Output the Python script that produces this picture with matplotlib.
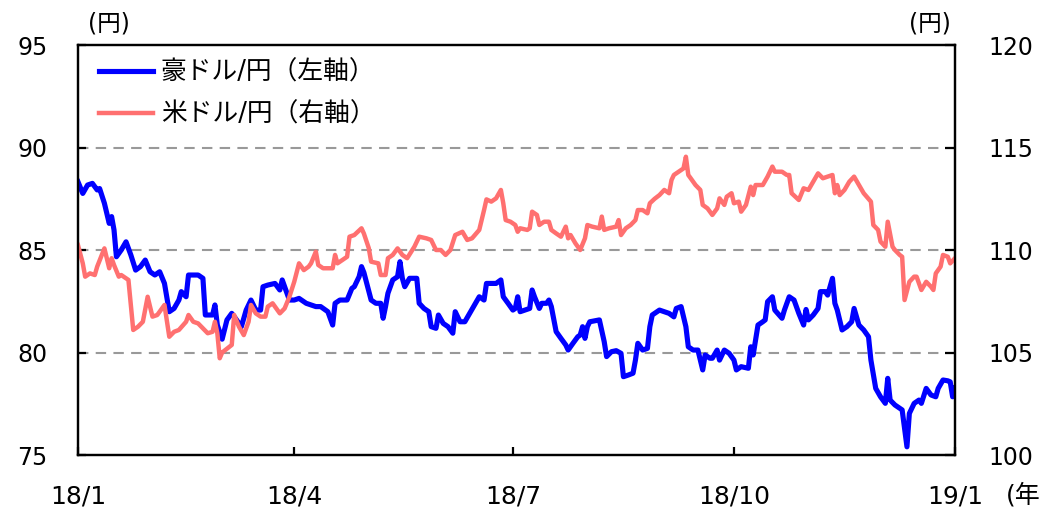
import matplotlib
matplotlib.use("Agg")
import matplotlib.pyplot as plt

plt.rcParams['font.family'] = ['DejaVu Sans', 'Noto Sans CJK JP']

# days since 2018/1/1 and rate (yen)
aud_days = [0, 2, 4, 6, 8, 9, 11, 13, 14, 15, 16, 18, 20, 22, 24, 26, 28, 30, 32, 34,
            36, 38, 40, 42, 43, 45, 46, 50, 52, 53, 56, 57, 58, 60, 62, 64, 66, 68, 70, 72,
            74, 76, 77, 79, 82, 84, 85, 88, 90, 92, 95, 99, 101, 104, 106, 107, 109, 112, 114, 115,
            117, 118, 119, 122, 124, 126, 127, 128, 129, 131, 133, 134, 135, 136, 138, 141, 142, 144, 146, 147,
            149, 150, 152, 154, 156, 157, 159, 161, 163, 165, 167, 169, 170, 172, 174, 176, 177, 179, 181, 182,
            183, 184, 186, 188, 189, 190, 192, 193, 195, 196, 197, 199, 201, 203, 204, 206, 208, 209, 210, 211,
            212, 213, 217, 219, 220, 222, 224, 226, 227, 229, 231, 232, 233, 235, 237, 238, 239, 241, 242, 244,
            246, 248, 249, 251, 253, 254, 256, 258, 260, 261, 263, 264, 266, 267, 269, 271, 273, 274, 276, 279,
            280, 281, 283, 285, 286, 287, 289, 290, 293, 294, 296, 298, 300, 302, 303, 304, 306, 308, 309, 311,
            312, 314, 315, 316, 318, 320, 322, 323, 325, 327, 329, 330, 332, 334, 336, 337, 338, 340, 343, 345,
            346, 348, 350, 351, 353, 355, 357, 358, 360, 362, 363, 364, 365]
aud = [88.33, 87.76, 88.17, 88.25, 87.93, 88.0, 87.28, 86.3, 86.63, 85.98, 84.67, 85.0, 85.4, 84.76, 84.02, 84.19, 84.51, 83.94, 83.78, 83.94,
       83.37, 81.99, 82.15, 82.56, 82.97, 82.72, 83.78, 83.78, 83.62, 81.83, 81.83, 82.32, 81.34, 80.65, 81.59, 81.91, 81.59, 81.26, 82.07, 82.56,
       82.07, 82.07, 83.21, 83.29, 83.37, 83.05, 83.54, 82.56, 82.56, 82.64, 82.4, 82.24, 82.24, 81.99, 81.34, 82.4, 82.56, 82.56, 83.13, 83.21,
       83.7, 84.19, 83.9, 82.56, 82.4, 82.4, 81.67, 82.24, 82.89, 83.54, 83.7, 84.43, 83.62, 83.21, 83.62, 83.62, 82.4, 82.15, 81.99, 81.26,
       81.18, 81.83, 81.42, 81.26, 80.94, 81.99, 81.5, 81.5, 81.91, 82.32, 82.72, 82.56, 83.37, 83.37, 83.37, 83.54, 82.72, 82.4, 82.07, 82.15,
       82.72, 81.99, 82.07, 82.15, 83.05, 82.72, 82.15, 82.4, 82.4, 82.56, 82.24, 81.02, 80.69, 80.37, 80.12, 80.45, 80.77, 80.85, 81.26, 80.69,
       81.26, 81.5, 81.59, 80.53, 79.8, 80.04, 80.09, 79.96, 78.82, 78.9, 78.99, 79.63, 80.45, 80.12, 80.2, 81.26, 81.83, 81.99, 82.07, 81.99,
       81.91, 81.74, 82.15, 82.24, 81.26, 80.28, 80.12, 80.12, 79.15, 79.88, 79.72, 79.72, 80.12, 79.63, 80.12, 79.96, 79.63, 79.15, 79.31, 79.23,
       80.28, 79.88, 81.34, 81.5, 81.59, 82.48, 82.72, 82.07, 81.67, 82.07, 82.72, 82.56, 81.91, 81.34, 82.1, 81.59, 81.83, 82.15, 82.97, 82.97,
       82.8, 83.62, 82.4, 82.07, 81.1, 81.26, 81.5, 82.15, 81.34, 81.1, 80.77, 79.63, 78.25, 77.84, 77.52, 78.74, 77.68, 77.44, 77.2, 75.4,
       77.03, 77.52, 77.68, 77.52, 78.25, 77.93, 77.84, 78.25, 78.66, 78.62, 78.57, 77.84, 78.25]

usd_days = [0, 2, 3, 5, 7, 8, 11, 13, 14, 15, 17, 18, 21, 23, 25, 27, 29, 31, 33, 36,
            38, 40, 42, 45, 46, 48, 50, 52, 54, 56, 57, 58, 59, 60, 63, 64, 65, 67, 69, 71,
            72, 74, 76, 78, 79, 81, 84, 86, 88, 90, 92, 94, 96, 97, 99, 100, 102, 106, 107, 108,
            110, 112, 113, 115, 118, 119, 121, 122, 125, 126, 128, 129, 131, 133, 135, 137, 140, 142, 145, 147,
            149, 151, 153, 155, 157, 160, 162, 164, 167, 169, 170, 172, 174, 176, 177, 178, 180, 182, 183, 184,
            187, 188, 189, 191, 192, 194, 196, 197, 199, 201, 203, 204, 205, 207, 209, 211, 212, 214, 217, 218,
            219, 221, 224, 225, 226, 228, 230, 232, 233, 235, 237, 238, 240, 242, 244, 246, 247, 248, 250, 252,
            253, 254, 255, 257, 259, 260, 262, 264, 266, 267, 269, 270, 272, 273, 275, 276, 278, 280, 281, 282,
            285, 287, 289, 290, 293, 295, 296, 297, 300, 302, 304, 306, 308, 310, 314, 315, 316, 317, 319, 321,
            323, 325, 327, 330, 331, 333, 334, 336, 337, 339, 340, 342, 343, 344, 346, 348, 349, 351, 353, 355,
            356, 357, 359, 360, 362, 363, 365]
usd = [110.24, 109.35, 108.7, 108.86, 108.78, 109.19, 110.08, 109.11, 109.6, 109.27, 108.7, 108.78, 108.54, 106.1, 106.26, 106.5, 107.72, 106.75, 106.83, 107.32,
       105.77, 106.01, 106.1, 106.5, 106.83, 106.5, 106.42, 106.18, 105.94, 106.01, 106.5, 105.94, 104.72, 105.0, 105.28, 105.37, 106.83, 106.26, 105.85, 106.5,
       107.32, 106.91, 106.75, 106.75, 107.24, 107.4, 106.91, 107.15, 107.72, 108.45, 109.35, 109.02, 109.19, 109.35, 109.92, 109.27, 109.11, 109.11, 109.76, 109.35,
       109.51, 109.67, 110.65, 110.73, 111.06, 110.8, 110.1, 109.43, 109.35, 108.78, 108.78, 109.6, 109.76, 110.08, 109.76, 109.6, 110.16, 110.65, 110.57, 110.49,
       110.0, 110.0, 109.76, 110.0, 110.73, 110.89, 110.49, 110.57, 110.98, 111.95, 112.47, 112.36, 112.52, 112.93, 112.28, 111.46, 111.38, 111.22, 110.89, 111.06,
       110.98, 111.06, 111.87, 111.71, 111.22, 111.38, 111.38, 110.98, 110.81, 110.65, 111.14, 110.57, 110.73, 110.33, 110.0, 110.57, 111.22, 111.14, 111.06, 111.63,
       110.98, 111.06, 111.14, 111.46, 110.73, 111.06, 111.22, 111.46, 111.95, 111.95, 111.79, 112.28, 112.5, 112.68, 112.93, 112.77, 113.41, 113.66, 113.82, 113.98,
       114.55, 113.66, 113.5, 113.17, 112.93, 112.2, 112.03, 111.71, 112.03, 112.52, 112.2, 112.6, 112.77, 112.28, 112.36, 111.87, 112.2, 113.09, 112.68, 113.17,
       113.17, 113.58, 114.07, 113.82, 113.82, 113.66, 113.66, 112.77, 112.44, 113.01, 112.93, 113.33, 113.74, 113.5, 113.66, 112.77, 113.17, 112.68, 112.93, 113.33,
       113.58, 113.17, 112.77, 112.36, 111.22, 110.98, 110.41, 110.16, 111.38, 110.16, 110.0, 109.76, 109.67, 107.56, 108.45, 108.7, 108.7, 108.05, 108.45, 108.21,
       108.05, 108.86, 109.19, 109.76, 109.67, 109.35, 109.6]

xtick_pos = [0, 90, 181, 273, 365]
xtick_labels = ['18/1', '18/4', '18/7', '18/10', '19/1']

fig = plt.figure(figsize=(10.41, 5.08), dpi=100)
ax = fig.add_axes([0.0749, 0.1043, 0.8425, 0.8071])
ax2 = ax.twinx()

l1, = ax.plot(aud_days, aud, color='#0000FF', lw=3.7, solid_joinstyle='round', label='豪ドル/円（左軸）')
l2, = ax2.plot(usd_days, usd, color='#FF7070', lw=3.2, solid_joinstyle='round', label='米ドル/円（右軸）')

ax.set_xlim(0, 365)
ax.set_ylim(75, 95)
ax2.set_ylim(100, 120)
ax.set_yticks([75, 80, 85, 90, 95])
ax2.set_yticks([100, 105, 110, 115, 120])
ax.set_xticks(xtick_pos)
ax.set_xticklabels(xtick_labels)

for y in [80, 85, 90]:
    ax.axhline(y, color='#999999', lw=1.5, ls=(0, (5, 3.5)), zorder=0)

for a in (ax, ax2):
    for s in a.spines.values():
        s.set_linewidth(1.6)
ax.tick_params(axis='both', direction='in', length=6, width=1.6, labelsize=17)
ax.tick_params(axis='y', pad=22)
ax.tick_params(axis='x', pad=21, labelsize=18)
ax2.tick_params(axis='y', direction='in', length=7, width=1.6, labelsize=17, pad=24)

fig.text(109 / 1041, 1 - 24 / 508, '(円)', fontsize=17, ha='center', va='center')
fig.text(930 / 1041, 1 - 24 / 508, '(円)', fontsize=17, ha='center', va='center')
fig.text(1006 / 1041, 1 - 495 / 508, '(年)', fontsize=18, ha='left', va='center')

fig.legend(handles=[l1, l2], loc='upper left', bbox_to_anchor=(99 / 1041, 1 - 60 / 508),
           frameon=False, fontsize=18.5, handlelength=2.1, handletextpad=0.3,
           labelspacing=0.62, borderpad=0, borderaxespad=0)

fig.savefig('out.png', dpi=100)
